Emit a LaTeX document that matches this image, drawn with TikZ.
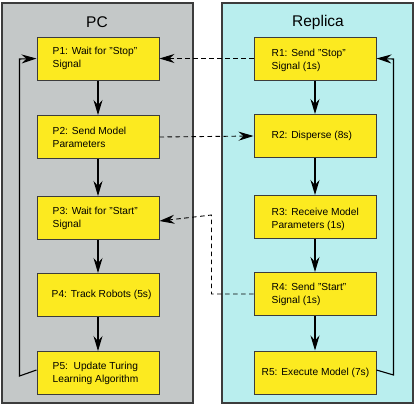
\documentclass[tikz,border=0pt]{standalone}
\usepackage{fontspec}
\setmainfont{Liberation Sans}
\usetikzlibrary{arrows.meta}
\definecolor{pcgray}{RGB}{196,200,200}
\definecolor{repcyan}{RGB}{185,238,238}
\definecolor{boxyellow}{RGB}{252,234,32}
\definecolor{edgegray}{RGB}{60,60,60}
\begin{document}
\begin{tikzpicture}[x=1pt,y=-1pt,
  panel/.style={draw=edgegray,line width=1.4pt,minimum width=191pt,minimum height=400pt,inner sep=0pt},
  stepbox/.style={draw=edgegray,fill=boxyellow,line width=1pt,minimum width=122pt,minimum height=43pt,inner sep=0pt},
  txt/.style={font=\fontsize{10.2}{12.8}\selectfont,align=left,inner sep=0pt,anchor=west},
  title/.style={font=\fontsize{15.5}{18}\selectfont,inner sep=0pt},
  tip/.style={-{Stealth[length=15pt,width=9pt,inset=5pt]}},
  flow/.style={tip,line width=1.1pt,black},
  sig/.style={tip,line width=0.9pt,black,dash pattern=on 4.5pt off 3.5pt}]
\useasboundingbox (0,0) rectangle (415,407);
\node[panel,fill=pcgray] (pc) at (97.5,203) {};
\node[panel,fill=repcyan] (rep) at (317.5,203) {};
\node[title] (pct) at (97,22) {PC};
\node[title] (rept) at (318,22) {Replica};

\node[stepbox] (p1) at (98,58.5) {};
\node[stepbox] (p2) at (98,137) {};
\node[stepbox] (p3) at (98,218) {};
\node[stepbox] (p4) at (98,295) {};
\node[stepbox] (p5) at (98,373) {};
\node[stepbox] (r1) at (315,58.5) {};
\node[stepbox] (r2) at (315,136) {};
\node[stepbox] (r3) at (315,217) {};
\node[stepbox] (r4) at (315,294) {};
\node[stepbox] (r5) at (315,372.5) {};

\node[txt] (p1t) at ([xshift=16pt]p1.west) {P1: Wait for "Stop"\\Signal};
\node[txt] (p2t) at ([xshift=16pt]p2.west) {P2: Send Model\\Parameters};
\node[txt] (p3t) at ([xshift=16pt]p3.west) {P3: Wait for "Start"\\Signal};
\node[txt] (p4t) at ([xshift=15pt]p4.west) {P4: Track Robots (5s)};
\node[txt] (p5t) at ([xshift=16pt]p5.west) {P5:\ \ Update Turing\\Learning Algorithm};
\node[txt] (r1t) at ([xshift=18pt,yshift=-2pt]r1.west) {R1: Send "Stop"\\Signal (1s)};
\node[txt] (r2t) at ([xshift=18pt]r2.west) {R2: Disperse (8s)};
\node[txt] (r3t) at ([xshift=18pt,yshift=-2pt]r3.west) {R3: Receive Model\\Parameters (1s)};
\node[txt] (r4t) at ([xshift=18pt]r4.west) {R4: Send "Start"\\Signal (1s)};
\node[txt] (r5t) at ([xshift=8pt]r5.west) {R5: Execute Model (7s)};

\draw[flow] (p1) -- (p2);
\draw[flow] (p2) -- (p3);
\draw[flow] (p3) -- (p4);
\draw[flow] (p4) -- (p5);
\draw[flow] (r1) -- (r2);
\draw[flow] (r2) -- (r3);
\draw[flow] (r3) -- (r4);
\draw[flow] (r4) -- (r5);

\draw[flow] ([yshift=3pt]p5.west) -- (19.5,376) -- (19.5,59) -- (p1.west);
\draw[flow] ([yshift=2.5pt]r5.east) -- (393.5,375) -- (393.5,59) -- (r1.east);

\draw[sig] (r1.west) -- (p1.east);
\draw[sig] (p2.east) -- (r2.west);
\draw[sig] (r4.west) -- (211.5,294) -- (211.5,215) -- ([yshift=-3pt]p3.east);
\end{tikzpicture}
\end{document}
